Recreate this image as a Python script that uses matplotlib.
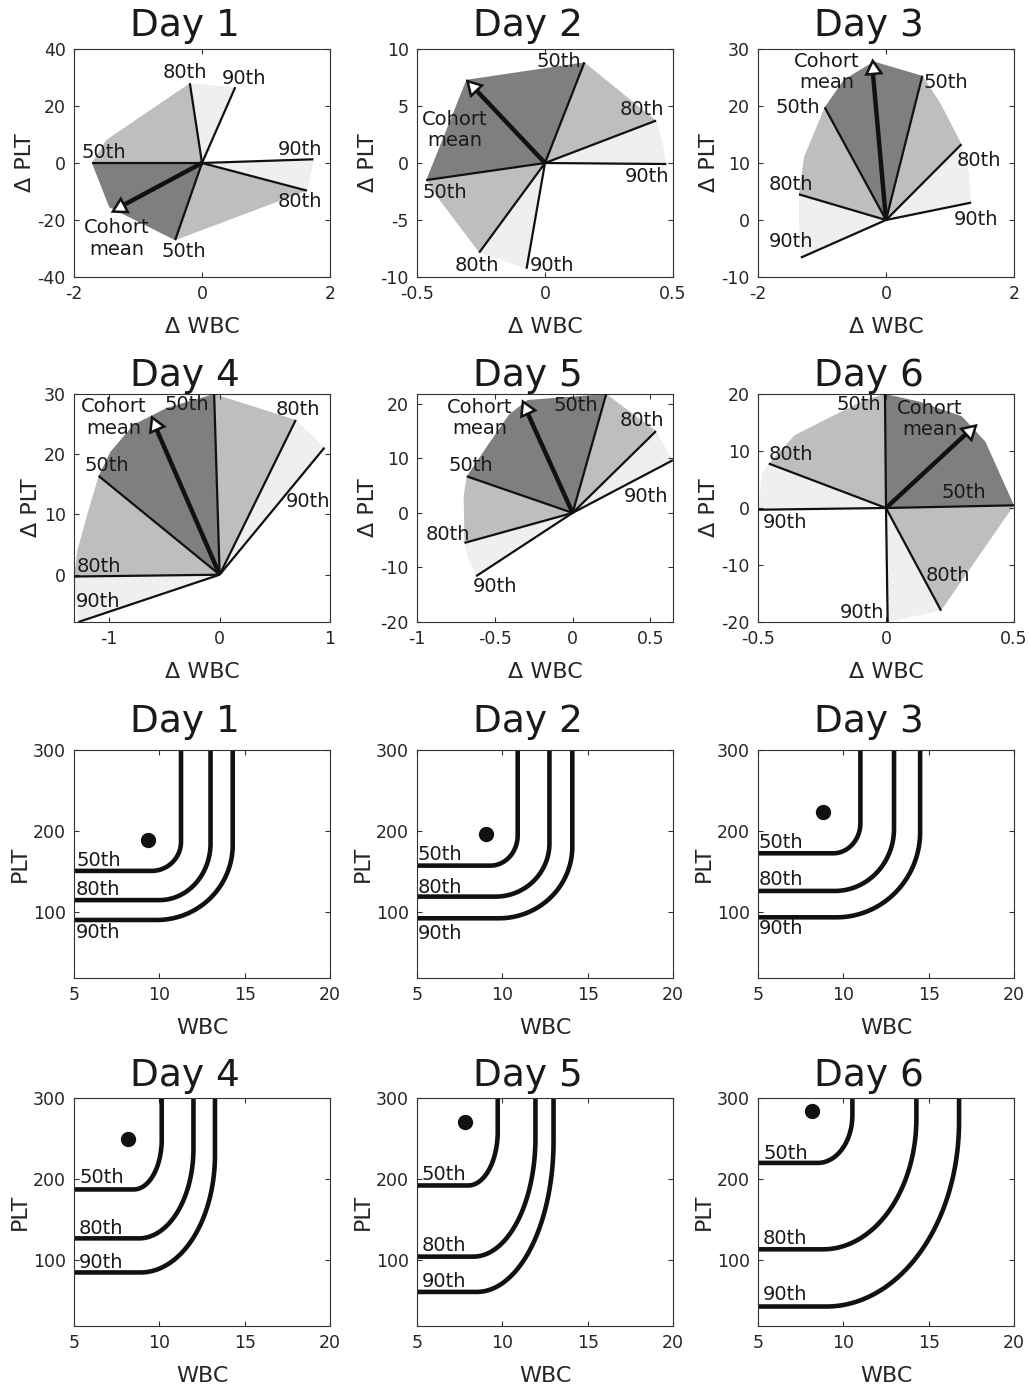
#!/usr/bin/env python3
"""Percentile direction fans (top two rows) and WBC/PLT percentile contours
(bottom two rows) for days 1-6."""

import numpy as np
import matplotlib
matplotlib.use("Agg")
import matplotlib.pyplot as plt
from matplotlib.patches import Polygon

plt.rcParams["font.family"] = ["DejaVu Sans"]
plt.rcParams["axes.unicode_minus"] = False

OUT = "out.png"

DAYS = [1, 2, 3, 4, 5, 6]

# ---- fan panels: outline vertices in ccw order, ray ends are the
# 90th, 80th, 50th, 50th, 80th, 90th vertices given by the index lists
OUTLINE_D1 = [(0.52, 26.6), (-0.19, 28.0), (-1.5, 8.0), (-1.72, 0.0),
              (-1.45, -15.5), (-0.42, -27.1), (1.64, -9.7), (1.72, -2.0),
              (1.74, 1.3)]
OUTLINE_D2 = [(0.474, -0.09), (0.457, 2.0), (0.434, 3.72), (0.154, 8.83),
              (-0.307, 7.3), (-0.464, -1.5), (-0.42, -3.0), (-0.257, -7.86),
              (-0.072, -9.27)]
OUTLINE_D3 = [(1.33, 3.05), (1.30, 8.2), (1.18, 13.3), (0.85, 20.5),
              (0.568, 25.3), (-0.19, 27.8), (-0.66, 24.6), (-0.958, 19.77),
              (-1.28, 11.1), (-1.36, 4.5), (-1.36, -1.0), (-1.33, -6.6)]
OUTLINE_D4 = [(0.95, 21.1), (0.69, 25.7), (-0.05, 30.0), (-0.48, 27.7),
              (-0.78, 24.9), (-0.99, 20.4), (-1.097, 16.4), (-1.2, 10.0),
              (-1.29, 4.0), (-1.318, -0.3), (-1.318, -4.0), (-1.28, -7.85)]
OUTLINE_D5 = [(0.644, 9.66), (0.536, 15.0), (0.216, 21.8), (-0.29, 20.7),
              (-0.41, 18.0), (-0.56, 11.8), (-0.68, 6.7), (-0.70, 3.2),
              (-0.695, -5.5), (-0.67, -8.5), (-0.62, -11.6)]
OUTLINE_D6 = [(0.0065, -20.0), (0.215, -18.0), (0.5, 0.47), (0.388, 11.65),
              (0.296, 16.1), (0.127, 18.7), (-0.004, 20.0), (-0.082, 19.0),
              (-0.356, 12.8), (-0.458, 7.8), (-0.485, 6.0), (-0.497, -0.3)]
OUTLINES = [OUTLINE_D1, OUTLINE_D2, OUTLINE_D3, OUTLINE_D4, OUTLINE_D5,
            OUTLINE_D6]
RAY_IDX = [[0, 1, 3, 5, 6, 8],
           [0, 2, 3, 5, 7, 8],
           [0, 2, 4, 7, 9, 11],
           [0, 1, 2, 6, 9, 11],
           [0, 1, 2, 6, 8, 10],
           [0, 1, 2, 6, 9, 11]]
COHORT_MEAN = [(-1.28, -15.4), (-0.28, 6.66), (-0.21, 26.45),
               (-0.59, 24.9), (-0.302, 19.1), (0.325, 13.5)]

FAN_XLIM = [(-2, 2), (-0.5, 0.5), (-2, 2), (-1.32, 1.0), (-1, 0.645),
            (-0.5, 0.5)]
FAN_YLIM = [(-40, 40), (-10, 10), (-10, 30), (-7.85, 30), (-20, 21.8),
            (-20, 20)]
FAN_XTICKS = [[-2, 0, 2], [-0.5, 0, 0.5], [-2, 0, 2], [-1, 0, 1],
              [-1, -0.5, 0, 0.5], [-0.5, 0, 0.5]]
FAN_YTICKS = [[-40, -20, 0, 20, 40], [-10, -5, 0, 5, 10],
              [-10, 0, 10, 20, 30], [0, 10, 20, 30],
              [-20, -10, 0, 10, 20], [-20, -10, 0, 10, 20]]

# label placement (centres, data units)
FAN_LABELS = [
    [(-1.53, 3.6, "50th"), (-0.27, 31.6, "80th"), (0.65, 29.8, "90th"),
     (1.53, 4.6, "90th"), (1.53, -13.6, "80th"), (-0.28, -31.2, "50th"),
     (-1.33, -26.5, "Cohort\nmean")],
    [(0.055, 8.9, "50th"), (0.38, 4.66, "80th"), (0.40, -1.2, "90th"),
     (-0.39, -2.6, "50th"), (-0.267, -8.97, "80th"), (0.029, -8.97, "90th"),
     (-0.353, 2.9, "Cohort\nmean")],
    [(-0.92, 26.0, "Cohort\nmean"), (0.93, 24.1, "50th"),
     (-1.385, 19.7, "50th"), (1.45, 10.4, "80th"), (-1.49, 6.3, "80th"),
     (1.40, 0.06, "90th"), (-1.48, -3.7, "90th")],
    [(-0.96, 26.1, "Cohort\nmean"), (-0.294, 28.2, "50th"),
     (0.706, 27.4, "80th"), (0.797, 12.2, "90th"), (-1.02, 18.1, "50th"),
     (-1.094, 1.4, "80th"), (-1.10, -4.5, "90th")],
    [(-0.594, 17.4, "Cohort\nmean"), (0.02, 19.7, "50th"),
     (0.443, 16.9, "80th"), (0.471, 3.1, "90th"), (-0.652, 8.7, "50th"),
     (-0.80, -3.9, "80th"), (-0.497, -13.5, "90th")],
    [(-0.108, 18.1, "50th"), (0.172, 15.6, "Cohort\nmean"),
     (-0.372, 9.3, "80th"), (0.303, 2.8, "50th"), (-0.395, -2.5, "90th"),
     (0.241, -11.9, "80th"), (-0.095, -18.4, "90th")],
]

# ---- contour panels: per day, values for the 50th, 80th, 90th curves
PCT_LABELS = ["50th", "80th", "90th"]
PLT_FLOOR = [[151, 115, 90.5], [157.5, 119.3, 92.6], [172.7, 126.3, 93.8],
             [187.3, 127, 85], [192.2, 104.5, 61], [220, 113.5, 43]]
WBC_WALL = [[11.27, 13.0, 14.3], [10.9, 12.76, 14.1], [11.0, 12.97, 14.5],
            [10.14, 12.0, 13.26], [9.73, 11.94, 13.0], [10.53, 14.28, 16.78]]
BEND_WBC = [[9.55, 10.0, 9.85], [9.3, 9.6, 9.8], [9.4, 9.5, 9.6],
            [8.5, 8.8, 8.9], [8.0, 8.3, 8.5], [8.5, 8.8, 9.0]]
BEND_PLT = [[187, 185, 183], [195, 185, 181], [210, 203, 199],
            [249, 238, 230], [259, 251, 247], [279, 275, 271]]
PATIENT_WBC = [9.36, 9.05, 8.8, 8.18, 7.8, 8.14]
PATIENT_PLT = [189, 196, 224, 250, 270.5, 284.4]

LEVEL_LABEL_X = [5.12, 5.02, 5.02, 5.3, 5.26, 5.3]
LEVEL_LABEL_Y = [[164, 127.5, 75.4], [171.5, 130.4, 74], [185.8, 140, 80],
                 [201.6, 139.3, 97], [205.7, 117.6, 74], [232, 127, 58]]

DARK = "#7f7f82"
MID = "#bebec0"
LIGHT = "#eeeff1"
FILLS = [LIGHT, MID, DARK, MID, LIGHT]
AXCOL = "#333333"

FIG_W, FIG_H = 1029, 1395
COL_LEFT = [74, 417, 758]
ROW_TOP = [49, 394, 750, 1098]
AX_W, AX_H = 256, 228
TITLE_PAD = [9.4, 6.0, 13.0, 9.0]


def make_axes(fig, row, col):
    left = COL_LEFT[col] / FIG_W
    bottom = 1 - (ROW_TOP[row] + AX_H) / FIG_H
    ax = fig.add_axes([left, bottom, AX_W / FIG_W, AX_H / FIG_H])
    for sp in ax.spines.values():
        sp.set_color(AXCOL)
        sp.set_linewidth(0.8)
    ax.tick_params(direction="in", top=True, right=True, length=3.5,
                   width=0.8, color=AXCOL, labelcolor="#262626",
                   labelsize=12.5, pad=6)
    return ax


def set_ticks(ax, xt, yt):
    ax.set_xticks(xt)
    ax.set_xticklabels(["%g" % t for t in xt])
    ax.set_yticks(yt)
    ax.set_yticklabels(["%g" % t for t in yt])


def title(ax, day, row):
    ax.text(0.435, 1.0 + TITLE_PAD[row] / 0.72 / AX_H, f"Day {day}",
            transform=ax.transAxes, ha="center", va="baseline",
            fontsize=27, color="#1a1a1a")


def draw_fan(ax, i):
    outline = OUTLINES[i]
    rays = RAY_IDX[i]
    ax.set_xlim(*FAN_XLIM[i])
    ax.set_ylim(*FAN_YLIM[i])
    for k in range(5):
        pts = [(0, 0)] + outline[rays[k]:rays[k + 1] + 1]
        ax.add_patch(Polygon(pts, closed=True, facecolor=FILLS[k],
                             edgecolor="none", zorder=1))
    for j in rays:
        x, y = outline[j]
        ax.plot([0, x], [0, y], color="#111111", lw=1.6, zorder=3,
                solid_capstyle="butt")
    mx, my = COHORT_MEAN[i]
    ax.plot([0, mx], [0, my], color="#111111", lw=3.2, zorder=4,
            solid_capstyle="butt")
    p0 = ax.transData.transform((0, 0))
    p1 = ax.transData.transform((mx, my))
    ang = np.degrees(np.arctan2(p1[1] - p0[1], p1[0] - p0[0])) - 90
    ax.plot([mx], [my], marker=(3, 0, ang), ms=12.5, mfc="white",
            mec="#111111", mew=1.8, zorder=5)
    for x, y, s in FAN_LABELS[i]:
        ax.text(x, y, s, ha="center", va="center", fontsize=14,
                color="#1a1a1a", zorder=6, linespacing=1.15)
    set_ticks(ax, FAN_XTICKS[i], FAN_YTICKS[i])
    ax.set_xlabel("\u0394 WBC", fontsize=16, color="#262626", labelpad=10)
    ax.set_ylabel("\u0394 PLT", fontsize=16, color="#262626", labelpad=2)


def draw_contours(ax, i):
    ax.set_xlim(5, 20)
    ax.set_ylim(19, 300)
    t = np.linspace(-np.pi / 2, 0, 60)
    for k in range(3):
        floor, wall = PLT_FLOOR[i][k], WBC_WALL[i][k]
        cx, cy = BEND_WBC[i][k], BEND_PLT[i][k]
        xs = np.concatenate([[5], cx + (wall - cx) * np.cos(t), [wall]])
        ys = np.concatenate([[floor], cy + (cy - floor) * np.sin(t), [310]])
        ax.plot(xs, ys, color="#111111", lw=3.3, solid_capstyle="butt")
        ax.text(LEVEL_LABEL_X[i], LEVEL_LABEL_Y[i][k], PCT_LABELS[k],
                ha="left", va="center", fontsize=14, color="#1a1a1a")
    ax.plot([PATIENT_WBC[i]], [PATIENT_PLT[i]], "o", color="#111111",
            ms=10)
    set_ticks(ax, [5, 10, 15, 20], [100, 200, 300])
    ax.set_xlabel("WBC", fontsize=16, color="#262626", labelpad=10)
    ax.set_ylabel("PLT", fontsize=16, color="#262626", labelpad=2)


def main():
    fig = plt.figure(figsize=(FIG_W / 100, FIG_H / 100), dpi=100)
    for i, day in enumerate(DAYS):
        row, col = divmod(i, 3)
        ax = make_axes(fig, row, col)
        draw_fan(ax, i)
        title(ax, day, row)
    for i, day in enumerate(DAYS):
        row, col = divmod(i, 3)
        ax = make_axes(fig, row + 2, col)
        draw_contours(ax, i)
        title(ax, day, row + 2)
    fig.savefig(OUT, dpi=100)
    plt.close(fig)


if __name__ == "__main__":
    main()
